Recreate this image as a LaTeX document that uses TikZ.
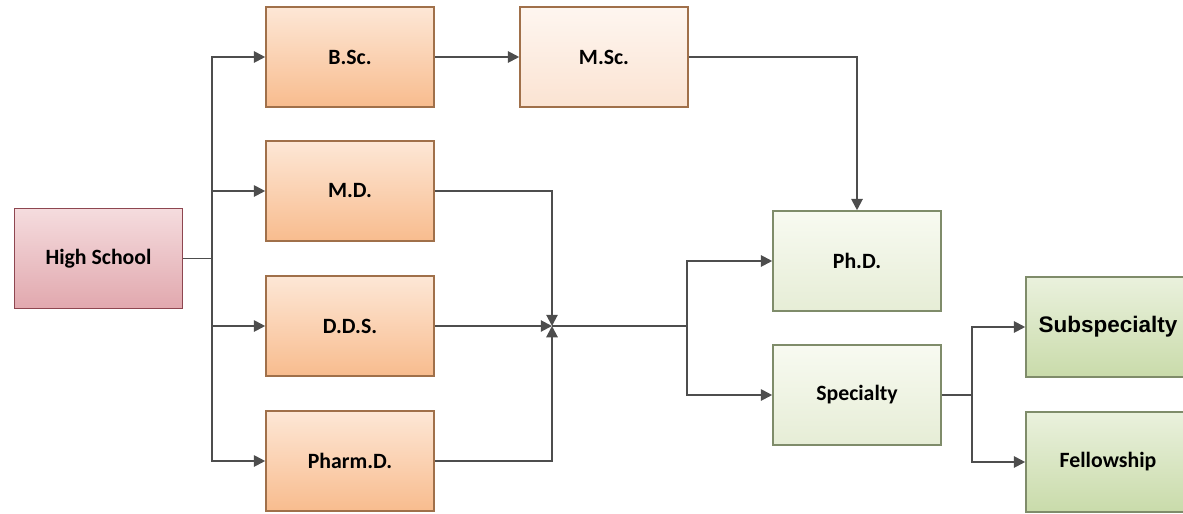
\documentclass[tikz,border=0pt]{standalone}
\usepackage{fontspec}
\setmainfont{Carlito}
\newfontfamily\arialfont{Liberation Sans}
\usetikzlibrary{arrows.meta}

\definecolor{pinkTop}{HTML}{F5DCDE}
\definecolor{pinkBot}{HTML}{E1A8AE}
\definecolor{pinkLine}{HTML}{8E4650}
\definecolor{orTop}{HTML}{FDE7D6}
\definecolor{orBot}{HTML}{F8BC8E}
\definecolor{orLine}{HTML}{A0704A}
\definecolor{peachTop}{HTML}{FEF6F0}
\definecolor{peachBot}{HTML}{FBE3D2}
\definecolor{grTop}{HTML}{F8FAF1}
\definecolor{grBot}{HTML}{E6EDD6}
\definecolor{grLine}{HTML}{7F8C6A}
\definecolor{dgTop}{HTML}{EAF1DD}
\definecolor{dgBot}{HTML}{C9DBAA}
\definecolor{wire}{HTML}{4D4D4D}

\tikzset{
  box/.style={rectangle, draw, line width=1.1pt, minimum width=4.2cm, minimum height=2.5cm,
    font=\fontsize{15.5}{18}\selectfont\bfseries},
  school/.style={box, draw=pinkLine, top color=pinkTop, bottom color=pinkBot},
  degree/.style={box, draw=orLine, top color=orTop, bottom color=orBot},
  master/.style={box, draw=orLine, top color=peachTop, bottom color=peachBot},
  doctor/.style={box, draw=grLine, top color=grTop, bottom color=grBot},
  later/.style={box, minimum width=4.1cm, draw=grLine, top color=dgTop, bottom color=dgBot},
  arr/.style={draw=wire, line width=1.4pt, -{Triangle[length=8pt, width=8pt]}},
  wireline/.style={draw=wire, line width=1.4pt}
}

\begin{document}
\begin{tikzpicture}[x=0.025cm, y=-0.025cm]
      \useasboundingbox (0,0) rectangle (1183,513);
      % Nodes
      \node[school] (hs) at (98.5,258.5) {High School};
      \node[degree] (bsc) at (350,57) {B.Sc.};
      \node[master] (msc) at (604,57) {M.Sc.};
      \node[degree] (md) at (350,191) {M.D.};
      \node[degree] (dds) at (350,326) {D.D.S.};
      \node[degree] (pharm) at (350,461) {Pharm.D.};
      \node[doctor] (phd) at (857,261) {Ph.D.};
      \node[doctor] (spec) at (857,395) {Specialty};
      \node[later, font=\arialfont\fontsize{16}{19}\selectfont\bfseries] (subspec) at (1108,327) {Subspecialty};
      \node[later] (fellow) at (1108,462) {Fellowship};
      % Branch points
      \coordinate (t1) at (212,258.5);
      \coordinate (j) at (552,326);
      \coordinate (t2) at (687,326);
      \coordinate (t3) at (972,395);
      % Edges
      \draw[wireline] (hs.east) -- (t1);
      \draw[arr] (t1) |- (bsc.west);
      \draw[arr] (t1) |- (md.west);
      \draw[arr] (t1) |- (dds.west);
      \draw[arr] (t1) |- (pharm.west);
      \draw[arr] (bsc.east) -- (msc.west);
      \draw[arr] (msc.east) -| (phd.north);
      \draw[arr] (md.east) -| (j);
      \draw[arr] (dds.east) -- (j);
      \draw[arr] (pharm.east) -| (j);
      \draw[wireline] (j) -- (t2);
      \draw[arr] (t2) |- (phd.west);
      \draw[arr] (t2) |- (spec.west);
      \draw[wireline] (spec.east) -- (t3);
      \draw[arr] (t3) |- (subspec.west);
      \draw[arr] (t3) |- (fellow.west);
    \end{tikzpicture}
\end{document}
